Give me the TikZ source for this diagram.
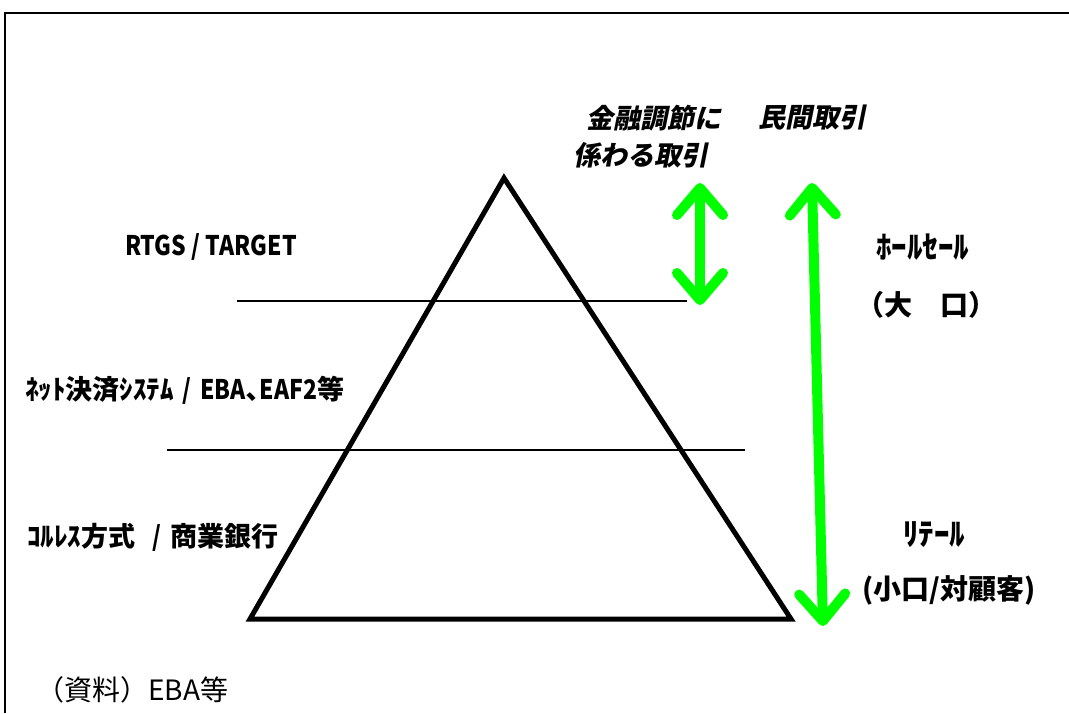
\documentclass[tikz,border=0pt]{standalone}
\usepackage{fontspec}
\usetikzlibrary{arrows.meta}
\newfontfamily\jp{Noto Sans CJK JP}
\newfontfamily\jpc[FakeStretch=0.85]{Noto Sans CJK JP}
\newfontfamily\jpi[FakeSlant=0.2]{Noto Sans CJK JP}
\definecolor{gcol}{RGB}{0,255,0}
\newcommand{\slsep}{\hspace{9pt}{\jpc/}\hspace{9pt}}
\begin{document}
\begin{tikzpicture}[x=1pt,y=-1pt,
  frame/.style={line width=2pt},
  tri/.style={line width=5pt, line join=miter},
  sep/.style={line width=1.3pt},
  gtip/.tip={Straight Barb[length=27pt, width=46pt, round]},
  gdouble/.style={draw=gcol, line width=10pt, line cap=round, gtip-gtip},
  lbl/.style={inner sep=0pt, anchor=west, font=\jp\bfseries\fontsize{27}{30}\selectfont},
  rlbl/.style={inner sep=0pt, anchor=west, font=\jp\bfseries\fontsize{31}{34}\selectfont},
  plbl/.style={inner sep=0pt, anchor=west, font=\jp\bfseries\fontsize{28}{30}\selectfont},
  ilbl/.style={inner sep=0pt, anchor=west, font=\jpi\bfseries\fontsize{27}{30}\selectfont},
  src/.style={inner sep=0pt, anchor=west, font=\jp\fontsize{28}{30}\selectfont},
]
\useasboundingbox (0,0) rectangle (1069,713);
\fill[white] (0,0) rectangle (1069,713);

% frame
\coordinate (fb) at (5,713);
\coordinate (ftl) at (5,13);
\coordinate (ftr) at (1069,13);
\draw[frame] (fb) -- (ftl) -- (ftr);

% pyramid
\coordinate (apex) at (504,178);
\coordinate (bl) at (250,619);
\coordinate (br) at (791,619);
\draw[tri] (apex) -- (br) -- (bl) -- cycle;

% separator lines
\coordinate (s1a) at (237,301);
\coordinate (s1b) at (687,301);
\coordinate (s2a) at (167,450);
\coordinate (s2b) at (745,450);
\draw[sep] (s1a) -- (s1b);
\draw[sep] (s2a) -- (s2b);

% green arrows
\coordinate (a1t) at (700,183);
\coordinate (a1b) at (700,305);
\coordinate (a2t) at (812,183);
\coordinate (a2b) at (823,626);
\draw[gdouble] (a1t) -- (a1b);
\draw[gdouble] (a2t) -- (a2b);

% labels
\node[ilbl] (kin) at (586,118) {金融調節に};
\node[ilbl] (min) at (758,118) {民間取引};
\node[ilbl] (kak) at (573,155) {係わる取引};
\node[lbl] (rtgs) at (125,247) {{\jpc RTGS / TARGET}};
\node[lbl] (net) at (25,390) {ﾈｯﾄ決済ｼｽﾃﾑ\slsep{\jpc EBA}､{\jpc EAF2}等};
\node[lbl] (cor) at (27,537) {ｺﾙﾚｽ方式\hspace{8pt}\slsep 商業銀行};
\node[rlbl] (whole) at (876,247) {ﾎｰﾙｾｰﾙ};
\node[plbl] (oo) at (856,305) {（大　口）};
\node[rlbl] (ret) at (903,535) {ﾘﾃｰﾙ};
\node[plbl] (ko) at (862,590) {(小口/対顧客)};
\node[src] (srcn) at (36,690) {（資料）EBA等};
\end{tikzpicture}
\end{document}
